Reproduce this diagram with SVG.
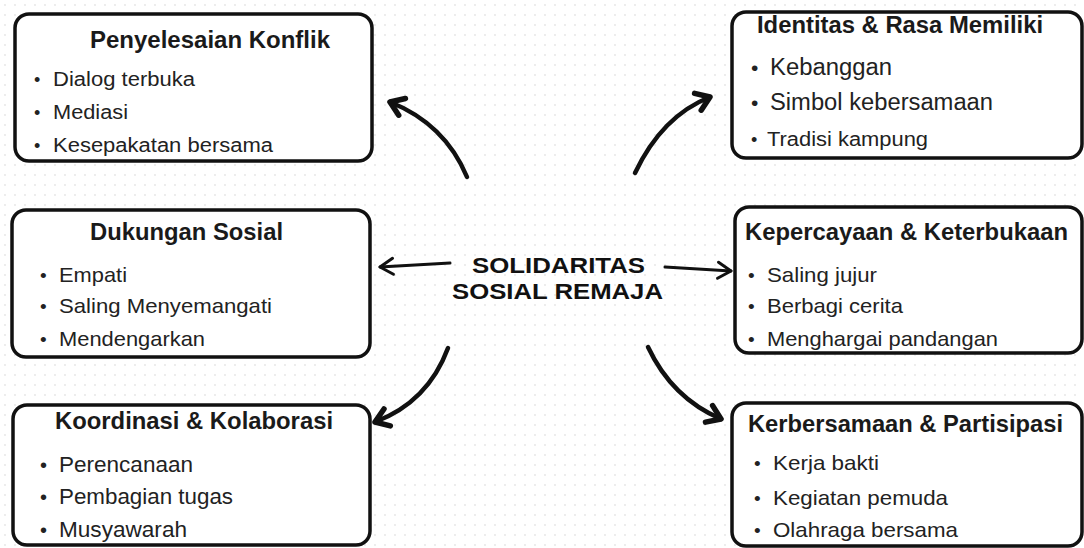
<svg xmlns="http://www.w3.org/2000/svg" width="1084" height="548" viewBox="0 0 1084 548">
<style>
.box{fill:#fff;stroke:#111;stroke-width:3.5}
.t{font-family:"Liberation Sans",Arial,sans-serif;font-weight:bold;fill:#1a1a1a}
.i{font-family:"Liberation Sans",Arial,sans-serif;fill:#222}
.c{font-family:"Liberation Sans",Arial,sans-serif;font-weight:bold;fill:#111;font-size:22px}
.thin{fill:none;stroke:#111;stroke-width:3;stroke-linecap:round}
.bold{fill:none;stroke:#111;stroke-width:4.5;stroke-linecap:round}
</style>
<defs>
<pattern id="dots" width="10" height="10" patternUnits="userSpaceOnUse">
<circle cx="5" cy="5" r="0.9" fill="#e4e4e4"/>
</pattern>
<marker id="hThin" viewBox="-16 -12 20 24" markerWidth="20" markerHeight="24" refX="0" refY="0" orient="auto" markerUnits="userSpaceOnUse" overflow="visible">
<path d="M -13 -8 L 0 0 L -13 8" fill="none" stroke="#111" stroke-width="3" stroke-linecap="round" stroke-linejoin="round"/>
</marker>
<marker id="hBold" viewBox="-16 -12 20 24" markerWidth="20" markerHeight="24" refX="0" refY="0" orient="auto" markerUnits="userSpaceOnUse" overflow="visible">
<path d="M -13 -9 L 0 0 L -13 9" fill="none" stroke="#111" stroke-width="5.5" stroke-linecap="round" stroke-linejoin="round"/>
</marker>
</defs>
<rect width="1084" height="548" fill="#fff"/>
<rect width="1084" height="548" fill="url(#dots)"/>

<g id="connectors">
<path class="thin" d="M 450 263 L 380 267" marker-end="url(#hThin)"/>
<path class="thin" d="M 665 267 L 731 271" marker-end="url(#hThin)"/>
<path class="bold" d="M 467 177 Q 445 124 390 102" marker-end="url(#hBold)"/>
<path class="bold" d="M 635 173 Q 662 116 710 97" marker-end="url(#hBold)"/>
<path class="bold" d="M 448 348 Q 428 402 375 422" marker-end="url(#hBold)"/>
<path class="bold" d="M 648 347 Q 672 398 721 419" marker-end="url(#hBold)"/>
</g>

<g id="center">
<text class="c" x="472" y="273" textLength="173" lengthAdjust="spacingAndGlyphs">SOLIDARITAS</text>
<text class="c" x="452" y="299" textLength="211" lengthAdjust="spacingAndGlyphs">SOSIAL REMAJA</text>
</g>

<g id="penyelesaian-konflik">
<rect class="box" x="15" y="14" width="357" height="147" rx="14"/>
<text class="t" x="90" y="48" font-size="24" textLength="240" lengthAdjust="spacingAndGlyphs">Penyelesaian Konflik</text>
<text class="i" x="34" y="86" font-size="18">•</text>
<text class="i" x="53" y="86" font-size="20" textLength="142" lengthAdjust="spacingAndGlyphs">Dialog terbuka</text>
<text class="i" x="34" y="119" font-size="18">•</text>
<text class="i" x="53" y="119" font-size="20" textLength="75" lengthAdjust="spacingAndGlyphs">Mediasi</text>
<text class="i" x="34" y="152" font-size="18">•</text>
<text class="i" x="53" y="152" font-size="20" textLength="220" lengthAdjust="spacingAndGlyphs">Kesepakatan bersama</text>
</g>

<g id="identitas">
<rect class="box" x="732" y="12" width="350" height="146" rx="14"/>
<text class="t" x="757" y="33" font-size="23" textLength="286" lengthAdjust="spacingAndGlyphs">Identitas &amp; Rasa Memiliki</text>
<text class="i" x="751" y="75" font-size="21">•</text>
<text class="i" x="770" y="75" font-size="23" textLength="122" lengthAdjust="spacingAndGlyphs">Kebanggan</text>
<text class="i" x="751" y="110" font-size="21">•</text>
<text class="i" x="770" y="110" font-size="23" textLength="223" lengthAdjust="spacingAndGlyphs">Simbol kebersamaan</text>
<text class="i" x="751" y="146" font-size="18">•</text>
<text class="i" x="767" y="146" font-size="20" textLength="161" lengthAdjust="spacingAndGlyphs">Tradisi kampung</text>
</g>

<g id="dukungan-sosial">
<rect class="box" x="12" y="210" width="358" height="147" rx="14"/>
<text class="t" x="90" y="240" font-size="24" textLength="193" lengthAdjust="spacingAndGlyphs">Dukungan Sosial</text>
<text class="i" x="40" y="282" font-size="19">•</text>
<text class="i" x="59" y="282" font-size="21" textLength="68" lengthAdjust="spacingAndGlyphs">Empati</text>
<text class="i" x="40" y="313" font-size="19">•</text>
<text class="i" x="59" y="313" font-size="21" textLength="213" lengthAdjust="spacingAndGlyphs">Saling Menyemangati</text>
<text class="i" x="40" y="346" font-size="19">•</text>
<text class="i" x="59" y="346" font-size="21" textLength="146" lengthAdjust="spacingAndGlyphs">Mendengarkan</text>
</g>

<g id="kepercayaan">
<rect class="box" x="735" y="207" width="347" height="146" rx="14"/>
<text class="t" x="745" y="240" font-size="24" textLength="323" lengthAdjust="spacingAndGlyphs">Kepercayaan &amp; Keterbukaan</text>
<text class="i" x="748" y="282" font-size="19">•</text>
<text class="i" x="767" y="282" font-size="21" textLength="110" lengthAdjust="spacingAndGlyphs">Saling jujur</text>
<text class="i" x="748" y="313" font-size="19">•</text>
<text class="i" x="767" y="313" font-size="21" textLength="136" lengthAdjust="spacingAndGlyphs">Berbagi cerita</text>
<text class="i" x="748" y="346" font-size="19">•</text>
<text class="i" x="767" y="346" font-size="21" textLength="231" lengthAdjust="spacingAndGlyphs">Menghargai pandangan</text>
</g>

<g id="koordinasi">
<rect class="box" x="13" y="405" width="357" height="140" rx="14"/>
<text class="t" x="55" y="429" font-size="24" textLength="278" lengthAdjust="spacingAndGlyphs">Koordinasi &amp; Kolaborasi</text>
<text class="i" x="40" y="472" font-size="20">•</text>
<text class="i" x="59" y="472" font-size="22" textLength="134" lengthAdjust="spacingAndGlyphs">Perencanaan</text>
<text class="i" x="40" y="504" font-size="20">•</text>
<text class="i" x="59" y="504" font-size="22" textLength="174" lengthAdjust="spacingAndGlyphs">Pembagian tugas</text>
<text class="i" x="40" y="537" font-size="20">•</text>
<text class="i" x="59" y="537" font-size="22" textLength="128" lengthAdjust="spacingAndGlyphs">Musyawarah</text>
</g>

<g id="kebersamaan">
<rect class="box" x="732" y="403" width="350" height="143" rx="14"/>
<text class="t" x="748" y="432" font-size="24" textLength="315" lengthAdjust="spacingAndGlyphs">Kerbersamaan &amp; Partisipasi</text>
<text class="i" x="754" y="470" font-size="19">•</text>
<text class="i" x="773" y="470" font-size="21" textLength="106" lengthAdjust="spacingAndGlyphs">Kerja bakti</text>
<text class="i" x="754" y="505" font-size="19">•</text>
<text class="i" x="773" y="505" font-size="21" textLength="175" lengthAdjust="spacingAndGlyphs">Kegiatan pemuda</text>
<text class="i" x="754" y="537" font-size="19">•</text>
<text class="i" x="773" y="537" font-size="21" textLength="185" lengthAdjust="spacingAndGlyphs">Olahraga bersama</text>
</g>
</svg>
